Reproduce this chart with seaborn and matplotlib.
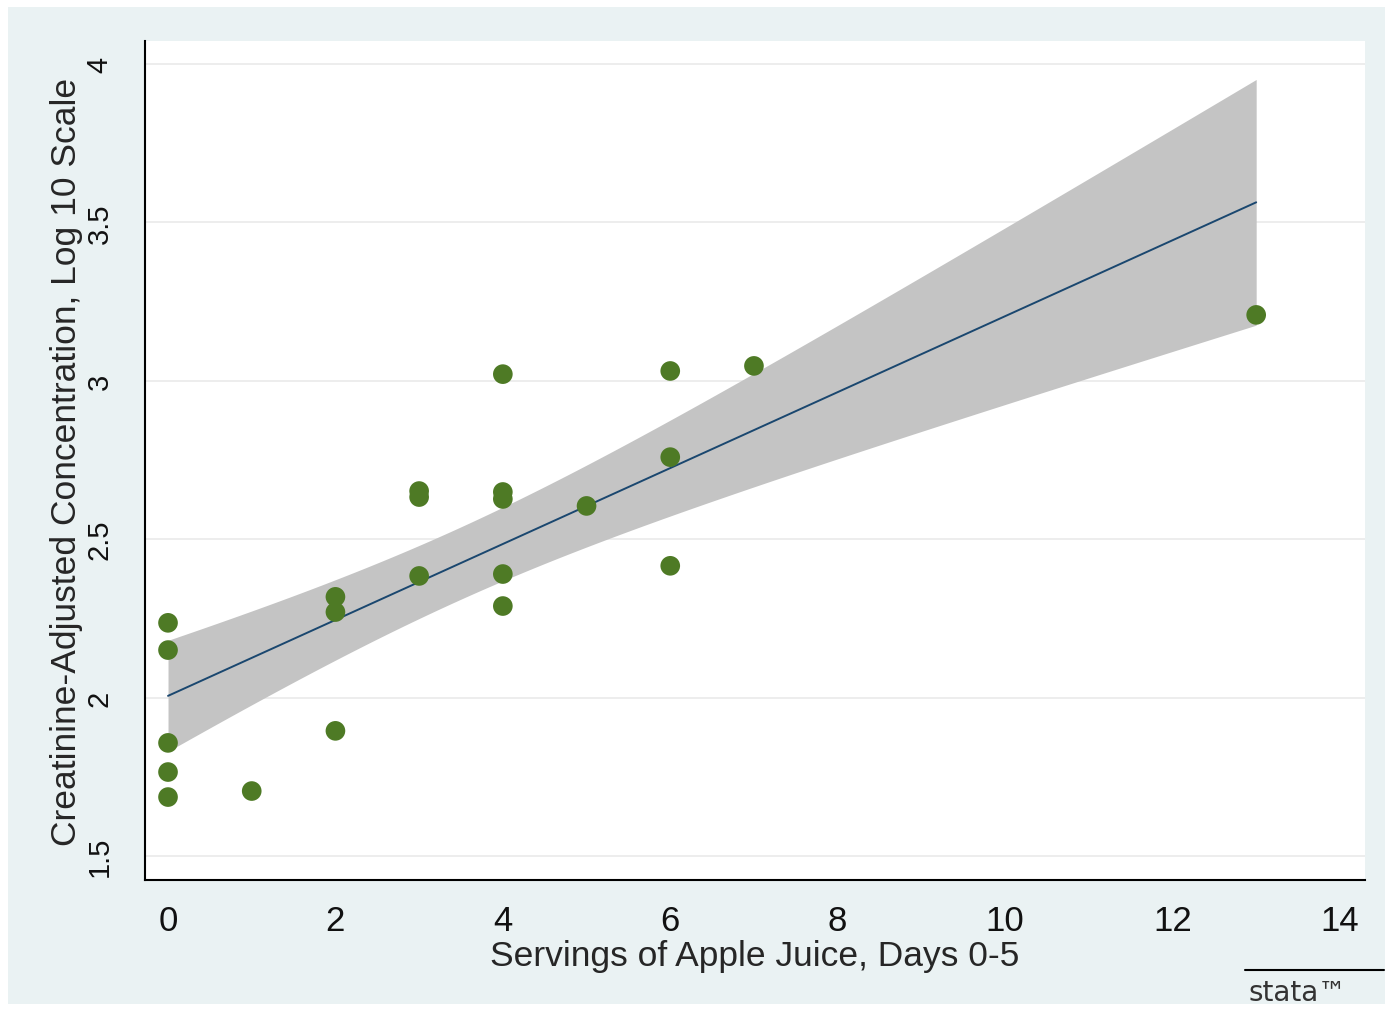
import numpy as np
import pandas as pd
import matplotlib
matplotlib.use("Agg")
import matplotlib.pyplot as plt
import seaborn as sns
from matplotlib.patches import Rectangle

# servings of apple juice (days 0-5) and log10 creatinine-adjusted concentration
servings = [0, 0, 0, 0, 0, 1, 2, 2, 2, 3, 3, 3, 4, 4, 4, 4, 4, 5, 6, 6, 6, 7, 13]
log_conc = [2.236, 2.150, 1.857, 1.765, 1.686, 1.705, 2.318, 2.270, 1.895,
            2.652, 2.633, 2.384, 3.021, 2.649, 2.627, 2.390, 2.289, 2.605,
            3.031, 2.759, 2.416, 3.047, 3.208]

x_ticks = [0, 2, 4, 6, 8, 10, 12, 14]
y_ticks = [1.5, 2, 2.5, 3, 3.5, 4]
y_tick_labels = ["1.5", "2", "2.5", "3", "3.5", "4"]

df = pd.DataFrame({"servings": servings, "log_conc": log_conc})

# linear fit with analytic 95% CI of the mean (like Stata lfitci)
x = df["servings"].to_numpy(float)
y = df["log_conc"].to_numpy(float)
n = len(x)
slope, intercept = np.polyfit(x, y, 1)
resid = y - (intercept + slope * x)
s = np.sqrt(np.sum(resid ** 2) / (n - 2))
sxx = np.sum((x - x.mean()) ** 2)
xg = np.linspace(x.min(), x.max(), 200)
yg = intercept + slope * xg
se = s * np.sqrt(1.0 / n + (xg - x.mean()) ** 2 / sxx)
t_crit = 2.0796  # t(0.975, 21)

sns.set_style("white")
plt.rcParams["font.family"] = ["Liberation Sans", "DejaVu Sans"]

fig = plt.figure(figsize=(13.85, 10.12), dpi=100, facecolor="white")
fig.patches.append(Rectangle((8 / 1385, 7 / 1012), 1 - 8 / 1385, 1 - 15 / 1012,
                             transform=fig.transFigure, facecolor="#EAF2F3",
                             edgecolor="none", zorder=-10))

ax = fig.add_axes([145 / 1385, (1012 - 881) / 1012, 1220 / 1385, 839 / 1012])
ax.set_facecolor("white")

ax.fill_between(xg, yg - t_crit * se, yg + t_crit * se, color="#C4C4C4",
                linewidth=0, zorder=2)
sns.regplot(data=df, x="servings", y="log_conc", scatter=False, ci=None,
            line_kws={"color": "#1A476F", "linewidth": 1.4, "zorder": 3}, ax=ax)
sns.scatterplot(data=df, x="servings", y="log_conc", color="#4E7A25", s=200,
                edgecolor="none", zorder=4, ax=ax)

ax.set_xlim(-0.275, 14.30)
ax.set_ylim(1.4242, 4.0726)
ax.set_xticks(x_ticks)
ax.set_yticks(y_ticks)
ax.set_yticklabels(y_tick_labels, rotation=90, va="center")
ax.grid(axis="y", color="#EAEAEA", linewidth=1.2, zorder=1)
ax.grid(axis="x", visible=False)
ax.set_axisbelow(True)

for side in ["top", "right"]:
    ax.spines[side].set_visible(False)
for side in ["left", "bottom"]:
    ax.spines[side].set_color("black")
    ax.spines[side].set_linewidth(1.5)

ax.tick_params(axis="both", direction="out", length=10.5, width=1.3, color="black",
               labelcolor="#111111")
ax.tick_params(axis="x", pad=7, labelsize=25)
ax.tick_params(axis="y", pad=12, labelsize=21)

ax.set_xlabel("Servings of Apple Juice, Days 0-5", fontsize=25.5, labelpad=1)
ax.set_ylabel("Creatinine-Adjusted Concentration, Log 10 Scale", fontsize=25.5,
              labelpad=2)

# stata logo mark
fig.add_artist(plt.Line2D([1245 / 1385, 1384 / 1385], [1 - 971 / 1012, 1 - 971 / 1012],
                          color="black", linewidth=1.5, transform=fig.transFigure))
fig.text(1248 / 1385, 1 - 993 / 1012, "stata\u2122", fontsize=20,
         family=["DejaVu Sans", "Liberation Sans"], va="center", ha="left",
         color="#333333")

fig.savefig("out.png", dpi=100, facecolor=fig.get_facecolor())
